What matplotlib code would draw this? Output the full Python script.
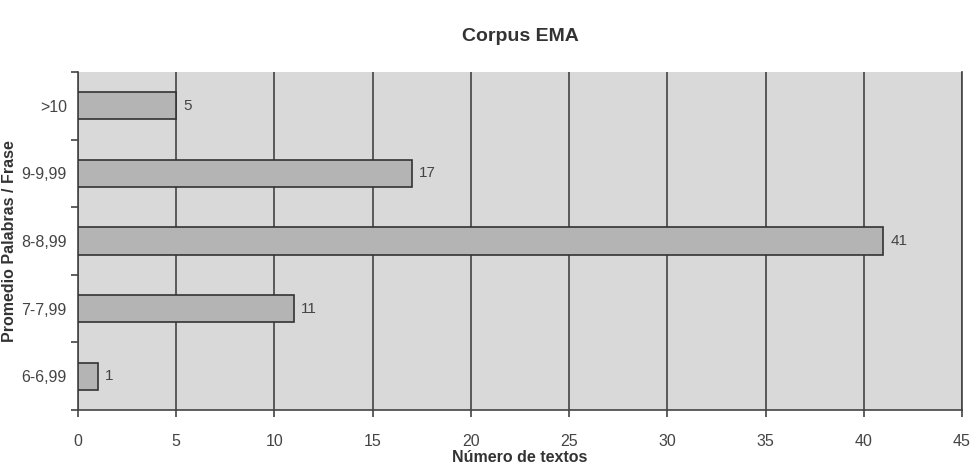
import matplotlib
matplotlib.use("Agg")
import matplotlib.pyplot as plt
import numpy as np
from matplotlib.ticker import MultipleLocator, FixedLocator

categories = ["6-6,99", "7-7,99", "8-8,99", "9-9,99", ">10"]
values = [1, 11, 41, 17, 5]
title = "Corpus EMA"
xlabel = "Número de textos"
ylabel = "Promedio Palabras / Frase"

plt.rcParams['font.family'] = ['Liberation Sans', 'DejaVu Sans']

fig = plt.figure(figsize=(9.76, 4.63), dpi=100)
ax = fig.add_axes([0.0799, 0.1145, 0.9057, 0.73])
ax.set_facecolor('#d9d9d9')

y = np.arange(len(categories))
ax.barh(y, values, height=0.4, color='#b4b4b4', edgecolor='#333333', linewidth=1.2, zorder=3)
for yi, v in zip(y, values):
    ax.text(v + 0.35, yi, str(v), va='center', ha='left', fontsize=11, color='#444444')

ax.set_xlim(0, 45)
ax.set_ylim(-0.5, len(categories) - 0.5)
ax.xaxis.set_major_locator(MultipleLocator(5))
ax.grid(axis='x', color='#444444', linewidth=1.2, zorder=1)
ax.set_yticks(y)
ax.set_yticklabels(categories)
ax.yaxis.set_minor_locator(FixedLocator(np.arange(-0.5, len(categories), 1.0)))
ax.tick_params(axis='y', which='major', length=0, pad=8, labelsize=11.5, labelcolor='#444444')
ax.tick_params(axis='y', which='minor', length=5, width=1.2, color='#444444', direction='out')
ax.tick_params(axis='x', length=5, width=1.2, color='#444444', direction='out', pad=12, labelsize=11.5, labelcolor='#444444')

ax.spines['top'].set_visible(False)
for s in ['left', 'bottom', 'right']:
    ax.spines[s].set_color('#444444')
    ax.spines[s].set_linewidth(1.2)

ax.set_title(title, fontsize=14, fontweight='bold', color='#333333', pad=22)
ax.set_xlabel(xlabel, fontsize=11.5, fontweight='bold', color='#333333')
ax.set_ylabel(ylabel, fontsize=11.5, fontweight='bold', color='#333333')
ax.xaxis.set_label_coords(0.5, -0.118)
ax.yaxis.set_label_coords(-0.069, 0.5)

fig.savefig('out.png', dpi=100, facecolor='white')
